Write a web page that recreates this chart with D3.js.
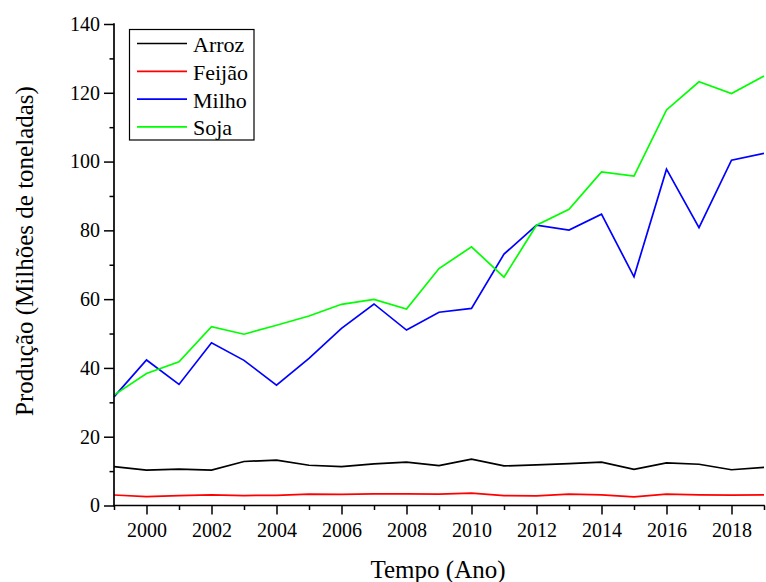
<!DOCTYPE html>
<html>
<head>
<meta charset="utf-8">
<script src="https://cdn.jsdelivr.net/npm/d3@7"></script>
<style>
  html, body { margin: 0; padding: 0; background: #fff; }
  svg { display: block; }
</style>
</head>
<body>
<svg id="chart" width="766" height="582"></svg>
<script>
// Produção anual (milhões de toneladas), 1999–2019
const years  = [1999,2000,2001,2002,2003,2004,2005,2006,2007,2008,2009,2010,2011,2012,2013,2014,2015,2016,2017,2018,2019];
const arroz  = [11.3,10.3,10.6,10.3,12.8,13.2,11.7,11.3,12.1,12.6,11.6,13.5,11.5,11.8,12.2,12.6,10.5,12.4,12.0,10.4,11.1];
const feijao = [3.05,2.6,2.9,3.1,2.9,2.95,3.3,3.25,3.4,3.4,3.3,3.6,2.9,2.8,3.3,3.1,2.5,3.3,3.1,3.0,3.1];
const milho  = [31.6,42.3,35.2,47.3,42.2,35.0,42.8,51.5,58.6,51.0,56.2,57.3,73.1,81.5,80.1,84.7,66.5,97.8,80.8,100.4,102.4];
const soja   = [32.1,38.4,41.8,52.0,49.8,52.4,55.1,58.5,59.9,57.1,68.9,75.2,66.4,81.5,86.1,97.0,95.8,115.0,123.2,119.8,124.9];

const seriesNames  = ["Arroz", "Feijão", "Milho", "Soja"];
const seriesValues = [arroz, feijao, milho, soja];
const seriesColors = ["#000000", "#ff0000", "#0000ff", "#00ff00"];

const yMajorTicks = [0, 20, 40, 60, 80, 100, 120, 140];
const yMinorTicks = [10, 30, 50, 70, 90, 110, 130];
const xMajorTicks = [2000, 2002, 2004, 2006, 2008, 2010, 2012, 2014, 2016, 2018];
const xMinorTicks = [1999, 2001, 2003, 2005, 2007, 2009, 2011, 2013, 2015, 2017, 2019];

const FONT = "'Liberation Serif', 'Times New Roman', serif";

const svg = d3.select("#chart");
const plot = { left: 114, right: 764, top: 24, bottom: 505.5 };

const x = d3.scaleLinear().domain([1999, 2019]).range([plot.left, plot.right]);
const y = d3.scaleLinear().domain([0, 140]).range([plot.bottom, plot.top]);

// data lines
const line = d3.line().x((d, i) => x(years[i])).y(d => y(d));
seriesValues.forEach((vals, k) => {
  svg.append("path")
    .attr("d", line(vals))
    .attr("fill", "none")
    .attr("stroke", seriesColors[k])
    .attr("stroke-width", 1.7);
});

function styleAxis(g) {
  g.selectAll(".domain").remove();
  g.selectAll(".tick line").attr("stroke", "#000").attr("stroke-width", 1.5);
  g.selectAll(".tick text")
    .attr("font-size", 20)
    .attr("font-family", FONT)
    .attr("fill", "#000");
}

// x axis: labelled ticks on even years, short ticks on odd years
svg.append("g").attr("transform", `translate(0,${plot.bottom})`)
  .call(d3.axisBottom(x).tickValues(xMinorTicks).tickSize(4.5).tickFormat(""))
  .call(styleAxis);
svg.append("g").attr("transform", `translate(0,${plot.bottom})`)
  .call(d3.axisBottom(x).tickValues(xMajorTicks).tickSize(9).tickPadding(8).tickFormat(d3.format("d")))
  .call(styleAxis);
svg.append("line")
  .attr("x1", plot.left - 0.8).attr("x2", plot.right + 0.8)
  .attr("y1", plot.bottom).attr("y2", plot.bottom)
  .attr("stroke", "#000").attr("stroke-width", 1.7);

// y axis: labelled ticks every 20, short ticks in between
svg.append("g").attr("transform", `translate(${plot.left},0)`)
  .call(d3.axisLeft(y).tickValues(yMinorTicks).tickSize(4.5).tickFormat(""))
  .call(styleAxis);
svg.append("g").attr("transform", `translate(${plot.left},0)`)
  .call(d3.axisLeft(y).tickValues(yMajorTicks).tickSize(10).tickPadding(4).tickFormat(d3.format("d")))
  .call(styleAxis);
svg.append("line")
  .attr("x1", plot.left).attr("x2", plot.left)
  .attr("y1", plot.top - 0.7).attr("y2", plot.bottom + 0.8)
  .attr("stroke", "#000").attr("stroke-width", 1.7);

// axis titles
svg.append("text")
  .attr("x", 438).attr("y", 578)
  .attr("text-anchor", "middle")
  .attr("font-family", FONT)
  .attr("font-size", 25)
  .text("Tempo (Ano)");

svg.append("text")
  .attr("transform", "translate(33,251) rotate(-90)")
  .attr("text-anchor", "middle")
  .attr("font-family", FONT)
  .attr("font-size", 25)
  .text("Produção (Milhões de toneladas)");

// legend
const legend = svg.append("g");
legend.append("rect")
  .attr("x", 129.5).attr("y", 29.5).attr("width", 124.5).attr("height", 110.5)
  .attr("fill", "#fff").attr("stroke", "#000").attr("stroke-width", 1.2);
seriesNames.forEach((name, k) => {
  const cy = 43.5 + k * 27.8;
  legend.append("line")
    .attr("x1", 137).attr("x2", 187).attr("y1", cy).attr("y2", cy)
    .attr("stroke", seriesColors[k]).attr("stroke-width", 1.7);
  legend.append("text")
    .attr("x", 193).attr("y", cy + 8.5)
    .attr("font-family", FONT)
    .attr("font-size", 22)
    .text(name);
});
</script>
</body>
</html>
